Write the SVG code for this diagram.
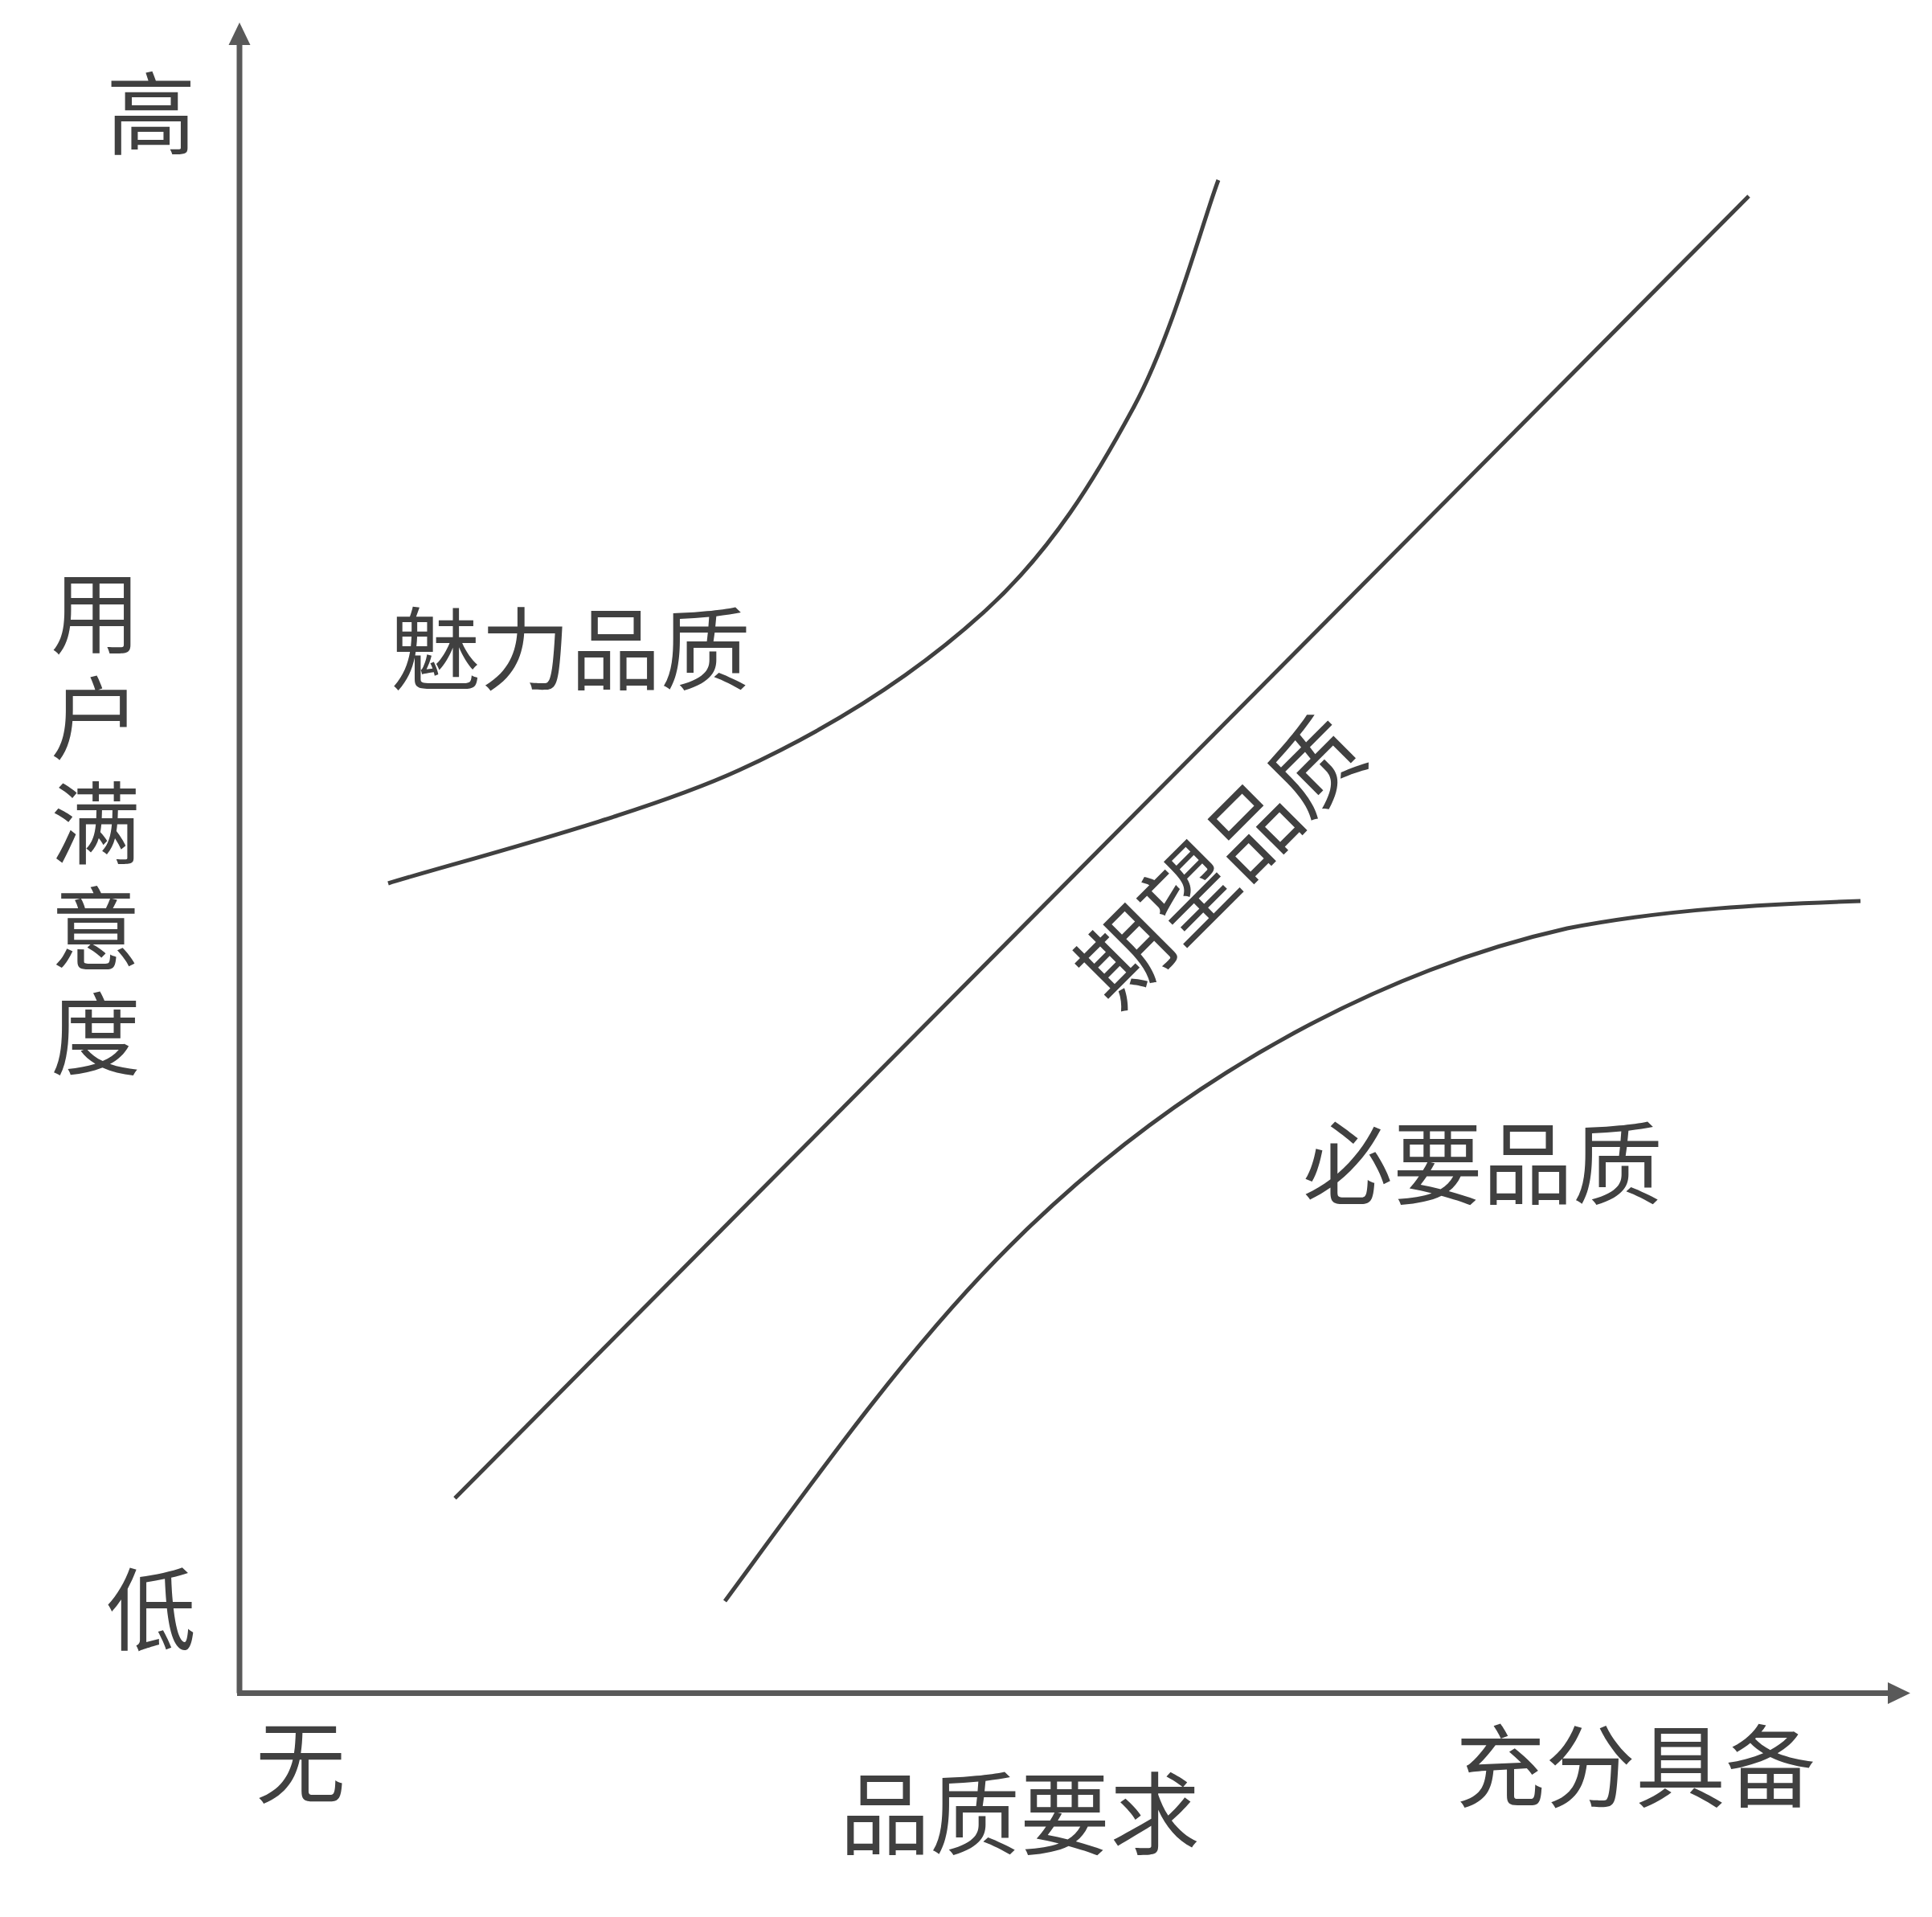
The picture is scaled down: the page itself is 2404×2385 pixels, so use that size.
<svg xmlns="http://www.w3.org/2000/svg" width="2404" height="2385" viewBox="0 0 2404 2385">
<style>
.t{font-family:"Noto Sans CJK SC","Noto Sans CJK JP",sans-serif;font-size:112px;fill:#404040;text-anchor:middle}
.axis{stroke:#595959;stroke-width:7;fill:none}
.curve{stroke:#404040;stroke-width:5;fill:none}
</style>
<defs>
<marker id="ah" markerUnits="userSpaceOnUse" markerWidth="28" markerHeight="28" refX="0" refY="13.5" orient="auto" overflow="visible">
<path d="M0,0 L28,13.5 L0,27 Z" fill="#595959"/>
</marker>
</defs>
<rect width="2404" height="2385" fill="#ffffff"/>
<g id="connectors">
<path class="axis" d="M298,2106.5 L298,56" marker-end="url(#ah)"/>
<path class="axis" d="M295,2106.5 L2349,2106.5" marker-end="url(#ah)"/>
<path class="curve" d="M483,1099 C556,1076 796,1015 920,958 C1044,901 1145,834 1227,759 C1309,684 1363,595 1411,506 C1459,417 1498,271 1516,224"/>
<path class="curve" d="M566,1864 L2176,244"/>
<path class="curve" d="M902,1992 C1010,1845 1120,1690 1240,1567 C1480,1320 1750,1200 1950,1155 C2080,1130 2200,1125 2315,1121"/>
</g>
<g id="label-high"><text class="t" x="188" y="184">高</text></g>
<g id="label-low"><text class="t" x="188" y="2045">低</text></g>
<g id="label-y"><text class="t" x="119" y="805">用<tspan x="119" dy="131">户</tspan><tspan x="119" dy="131">满</tspan><tspan x="119" dy="131">意</tspan><tspan x="119" dy="131">度</tspan></text></g>
<g id="label-none"><text class="t" x="374" y="2235">无</text></g>
<g id="label-x"><text class="t" x="1269" y="2299">品质要求</text></g>
<g id="label-full"><text class="t" x="2035" y="2240">充分具备</text></g>
<g id="node-charm"><text class="t" x="710" y="850">魅力品质</text></g>
<g id="node-expected"><text class="t" transform="translate(1517,1070) rotate(-45)" x="0" y="43">期望品质</text></g>
<g id="node-must"><text class="t" x="1845" y="1490">必要品质</text></g>
</svg>
